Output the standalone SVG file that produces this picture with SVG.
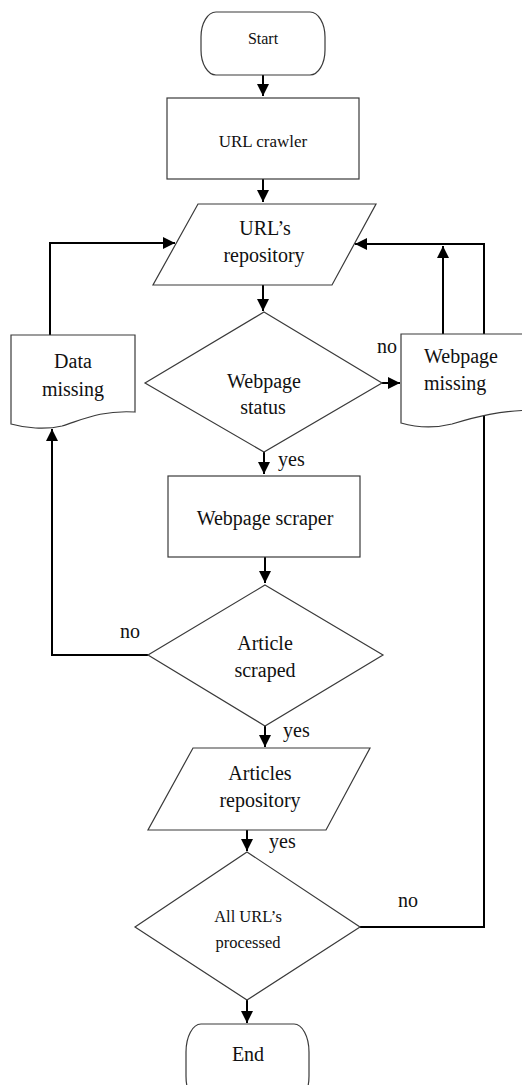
<svg xmlns="http://www.w3.org/2000/svg" width="522" height="1085" viewBox="0 0 522 1085">
<style>
.s{fill:#fff;stroke:#3a3a3a;stroke-width:1.2}
.c{fill:none;stroke:#000;stroke-width:2}
text{font-family:"Liberation Serif","Times New Roman",serif;fill:#111;font-size:20px}
.m{text-anchor:middle}
</style>
<defs>
<marker id="ah" markerUnits="userSpaceOnUse" markerWidth="12" markerHeight="12" viewBox="0 0 12 12" refX="12" refY="6" orient="auto">
<path d="M0,0 L12,6 L0,12 z" fill="#000"/>
</marker>
</defs>
<g id="connectors">
<path class="c" d="M263,75 V96" marker-end="url(#ah)"/>
<path class="c" d="M263,179 V202" marker-end="url(#ah)"/>
<path class="c" d="M263,285 V311" marker-end="url(#ah)"/>
<path class="c" d="M50,335 V243 H175" marker-end="url(#ah)"/>
<path class="c" d="M443,334 V246" marker-end="url(#ah)"/>
<path class="c" d="M360,927 H484 V244 H355" marker-end="url(#ah)"/>
<path class="c" d="M382,383 H400" marker-end="url(#ah)"/>
<path class="c" d="M264,452 V474" marker-end="url(#ah)"/>
<path class="c" d="M265,557 V583" marker-end="url(#ah)"/>
<path class="c" d="M148,655 H52 V429" marker-end="url(#ah)"/>
<path class="c" d="M265,726 V747" marker-end="url(#ah)"/>
<path class="c" d="M247,830 V851" marker-end="url(#ah)"/>
<path class="c" d="M247,1000 V1023" marker-end="url(#ah)"/>
<text x="377" y="353">no</text>
<text x="278" y="466">yes</text>
<text x="120" y="638">no</text>
<text x="283" y="737">yes</text>
<text x="269" y="848">yes</text>
<text x="398" y="907">no</text>
</g>
<g id="start">
<rect class="s" x="201" y="12" width="124" height="63" rx="15" ry="25"/>
<text class="m" x="263" y="44" style="font-size:16px">Start</text>
</g>
<g id="url-crawler">
<rect class="s" x="167" y="98" width="192" height="81"/>
<text class="m" x="263" y="147" style="font-size:17px">URL crawler</text>
</g>
<g id="url-repository">
<path class="s" d="M198,204 H376 L332,285 H153 Z"/>
<text class="m" x="265" y="235">URL’s</text>
<text class="m" x="264" y="262">repository</text>
</g>
<g id="webpage-status">
<path class="s" d="M264,312 L382,383 L264,452 L145,383 Z"/>
<text class="m" x="264" y="388">Webpage</text>
<text class="m" x="263" y="414">status</text>
</g>
<g id="data-missing">
<path class="s" d="M11,335 H135 V412 C100,410 82,420 62,426 C45,430 25,428 11,424 Z"/>
<text class="m" x="73" y="368">Data</text>
<text class="m" x="73" y="396">missing</text>
</g>
<g id="webpage-missing">
<path class="s" d="M401,334 H540 V410 C500,410 475,417 452,424 C432,429 415,427 401,423 Z"/>
<text x="424" y="363">Webpage</text>
<text x="424" y="390">missing</text>
</g>
<g id="webpage-scraper">
<rect class="s" x="168" y="476" width="192" height="81"/>
<text class="m" x="265" y="525">Webpage scraper</text>
</g>
<g id="article-scraped">
<path class="s" d="M265,585 L383,655 L265,726 L148,655 Z"/>
<text class="m" x="265" y="650">Article</text>
<text class="m" x="265" y="677">scraped</text>
</g>
<g id="articles-repository">
<path class="s" d="M193,748 H370 L326,830 H148 Z"/>
<text class="m" x="260" y="780">Articles</text>
<text class="m" x="260" y="807">repository</text>
</g>
<g id="all-processed">
<path class="s" d="M247,852 L360,927 L247,1000 L135,927 Z"/>
<text class="m" x="248" y="922" style="font-size:16.5px">All URL’s</text>
<text class="m" x="248" y="948" style="font-size:16.5px">processed</text>
</g>
<g id="end">
<rect class="s" x="186" y="1024" width="123" height="80" rx="15" ry="28"/>
<text class="m" x="248" y="1061">End</text>
</g>
</svg>
